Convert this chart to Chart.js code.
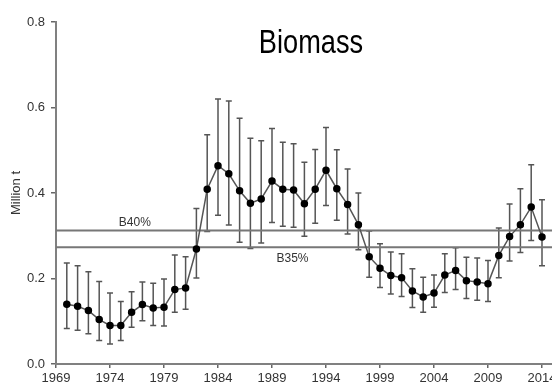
<!DOCTYPE html>
<html>
<head>
<meta charset="utf-8">
<script src="https://cdn.jsdelivr.net/npm/chart.js@4.4.1/dist/chart.umd.min.js"></script>
<style>
  html, body { margin: 0; padding: 0; background: #fff; overflow: hidden; }
  #wrap { width: 580px; height: 386px; }
</style>
</head>
<body>
<div id="wrap"><canvas id="biomass-chart" width="580" height="386"></canvas></div>
<script>
const years = [
  1970, 1971, 1972, 1973, 1974, 1975, 1976, 1977, 1978, 1979,
  1980, 1981, 1982, 1983, 1984, 1985, 1986, 1987, 1988, 1989,
  1990, 1991, 1992, 1993, 1994, 1995, 1996, 1997, 1998, 1999,
  2000, 2001, 2002, 2003, 2004, 2005, 2006, 2007, 2008, 2009,
  2010, 2011, 2012, 2013, 2014
];
const biomass = [
  0.140, 0.135, 0.125, 0.104, 0.090, 0.090, 0.121, 0.139, 0.131, 0.133,
  0.174, 0.178, 0.269, 0.409, 0.464, 0.445, 0.405, 0.376, 0.386, 0.428,
  0.409, 0.407, 0.375, 0.409, 0.453, 0.410, 0.373, 0.326, 0.251, 0.224,
  0.207, 0.202, 0.171, 0.157, 0.166, 0.208, 0.219, 0.195, 0.192, 0.188,
  0.254, 0.298, 0.326, 0.367, 0.297
];
const upper = [
  0.236, 0.230, 0.216, 0.193, 0.166, 0.146, 0.169, 0.192, 0.189, 0.199,
  0.255, 0.251, 0.364, 0.536, 0.620, 0.615, 0.575, 0.528, 0.522, 0.551,
  0.519, 0.515, 0.472, 0.502, 0.553, 0.501, 0.456, 0.400, 0.311, 0.281,
  0.262, 0.258, 0.223, 0.203, 0.208, 0.258, 0.272, 0.250, 0.248, 0.242,
  0.318, 0.374, 0.410, 0.466, 0.384
];
const lower = [
  0.083, 0.079, 0.071, 0.055, 0.047, 0.055, 0.086, 0.101, 0.090, 0.089,
  0.121, 0.128, 0.201, 0.310, 0.348, 0.325, 0.285, 0.270, 0.283, 0.331,
  0.322, 0.320, 0.299, 0.329, 0.371, 0.336, 0.304, 0.267, 0.203, 0.179,
  0.164, 0.158, 0.132, 0.121, 0.133, 0.167, 0.174, 0.153, 0.149, 0.146,
  0.202, 0.241, 0.261, 0.289, 0.230
];
const refValues = [0.312, 0.273];
const refLabels = ["B40%", "B35%"];
const xTicks = [1969, 1974, 1979, 1984, 1989, 1994, 1999, 2004, 2009, 2014];
const yTicks = [0, 0.2, 0.4, 0.6, 0.8];

const sans = "'Liberation Sans', Arial, sans-serif";

// whiskers + caps, drawn under the line
const errorBars = {
  id: "errorBars",
  beforeDatasetsDraw(chart) {
    const { ctx, scales: { x, y } } = chart;
    ctx.save();
    ctx.strokeStyle = "#555";
    ctx.lineWidth = 1.5;
    years.forEach((yr, i) => {
      const px = x.getPixelForValue(yr);
      const top = y.getPixelForValue(upper[i]);
      const bot = y.getPixelForValue(lower[i]);
      ctx.beginPath();
      ctx.moveTo(px, top); ctx.lineTo(px, bot);
      ctx.moveTo(px - 3, top); ctx.lineTo(px + 3, top);
      ctx.moveTo(px - 3, bot); ctx.lineTo(px + 3, bot);
      ctx.stroke();
    });
    ctx.restore();
  }
};

// B40% / B35% text and the big title (narrowed, the original font is condensed)
const annotations = {
  id: "annotations",
  afterDraw(chart) {
    const { ctx, scales: { x, y } } = chart;
    ctx.save();
    ctx.fillStyle = "#333";
    ctx.font = "12px " + sans;
    ctx.textAlign = "center";
    ctx.textBaseline = "alphabetic";
    ctx.fillText(refLabels[0], x.getPixelForValue(1976.3), y.getPixelForValue(refValues[0]) - 5);
    ctx.textBaseline = "top";
    ctx.fillText(refLabels[1], x.getPixelForValue(1990.9), y.getPixelForValue(refValues[1]) + 5);

    ctx.fillStyle = "#000";
    ctx.font = "34px " + sans;
    ctx.textBaseline = "alphabetic";
    ctx.translate(311, 53);
    ctx.scale(0.8, 1);
    ctx.fillText("Biomass", 0, 0);
    ctx.restore();
  }
};

const xMin = 1969, xMax = 2017;

new Chart(document.getElementById("biomass-chart"), {
  type: "line",
  data: {
    datasets: [
      {
        label: "Biomass",
        data: years.map((yr, i) => ({ x: yr, y: biomass[i] })),
        borderColor: "#555",
        borderWidth: 1.5,
        pointRadius: 3,
        pointBackgroundColor: "#000",
        pointBorderColor: "#000",
        tension: 0,
      },
      ...refValues.map((v, i) => ({
        label: refLabels[i],
        data: [{ x: xMin, y: v }, { x: xMax, y: v }],
        borderColor: "#777",
        borderWidth: 2,
        pointRadius: 0,
      })),
    ],
  },
  options: {
    responsive: false,
    animation: false,
    layout: { padding: { top: 22, right: 5.6, left: 0, bottom: 0 } },
    plugins: {
      legend: { display: false },
      tooltip: { enabled: false },
    },
    scales: {
      x: {
        type: "linear",
        min: xMin,
        max: xMax,
        afterBuildTicks: (s) => { s.ticks = xTicks.map((v) => ({ value: v })); },
        afterFit: (s) => { s.height = 22; },
        border: { color: "#808080", width: 2 },
        grid: { drawOnChartArea: false, color: "#666", tickLength: 4, lineWidth: 1.5 },
        ticks: {
          color: "#333",
          font: { family: sans, size: 13 },
          padding: 3,
          maxRotation: 0,
          callback: (v) => String(v),
        },
      },
      y: {
        min: 0,
        max: 0.8,
        afterBuildTicks: (s) => { s.ticks = yTicks.map((v) => ({ value: v })); },
        afterFit: (s) => { s.width = 56; },
        border: { color: "#808080", width: 2 },
        grid: { drawOnChartArea: false, color: "#666", tickLength: 5, lineWidth: 1.5 },
        ticks: {
          color: "#333",
          font: { family: sans, size: 13 },
          padding: 6,
          callback: (v) => v.toFixed(1),
        },
        title: {
          display: true,
          text: "Million t",
          color: "#333",
          font: { family: sans, size: 13 },
          padding: { top: 9, bottom: 0 },
        },
      },
    },
  },
  plugins: [errorBars, annotations],
});
</script>
</body>
</html>
